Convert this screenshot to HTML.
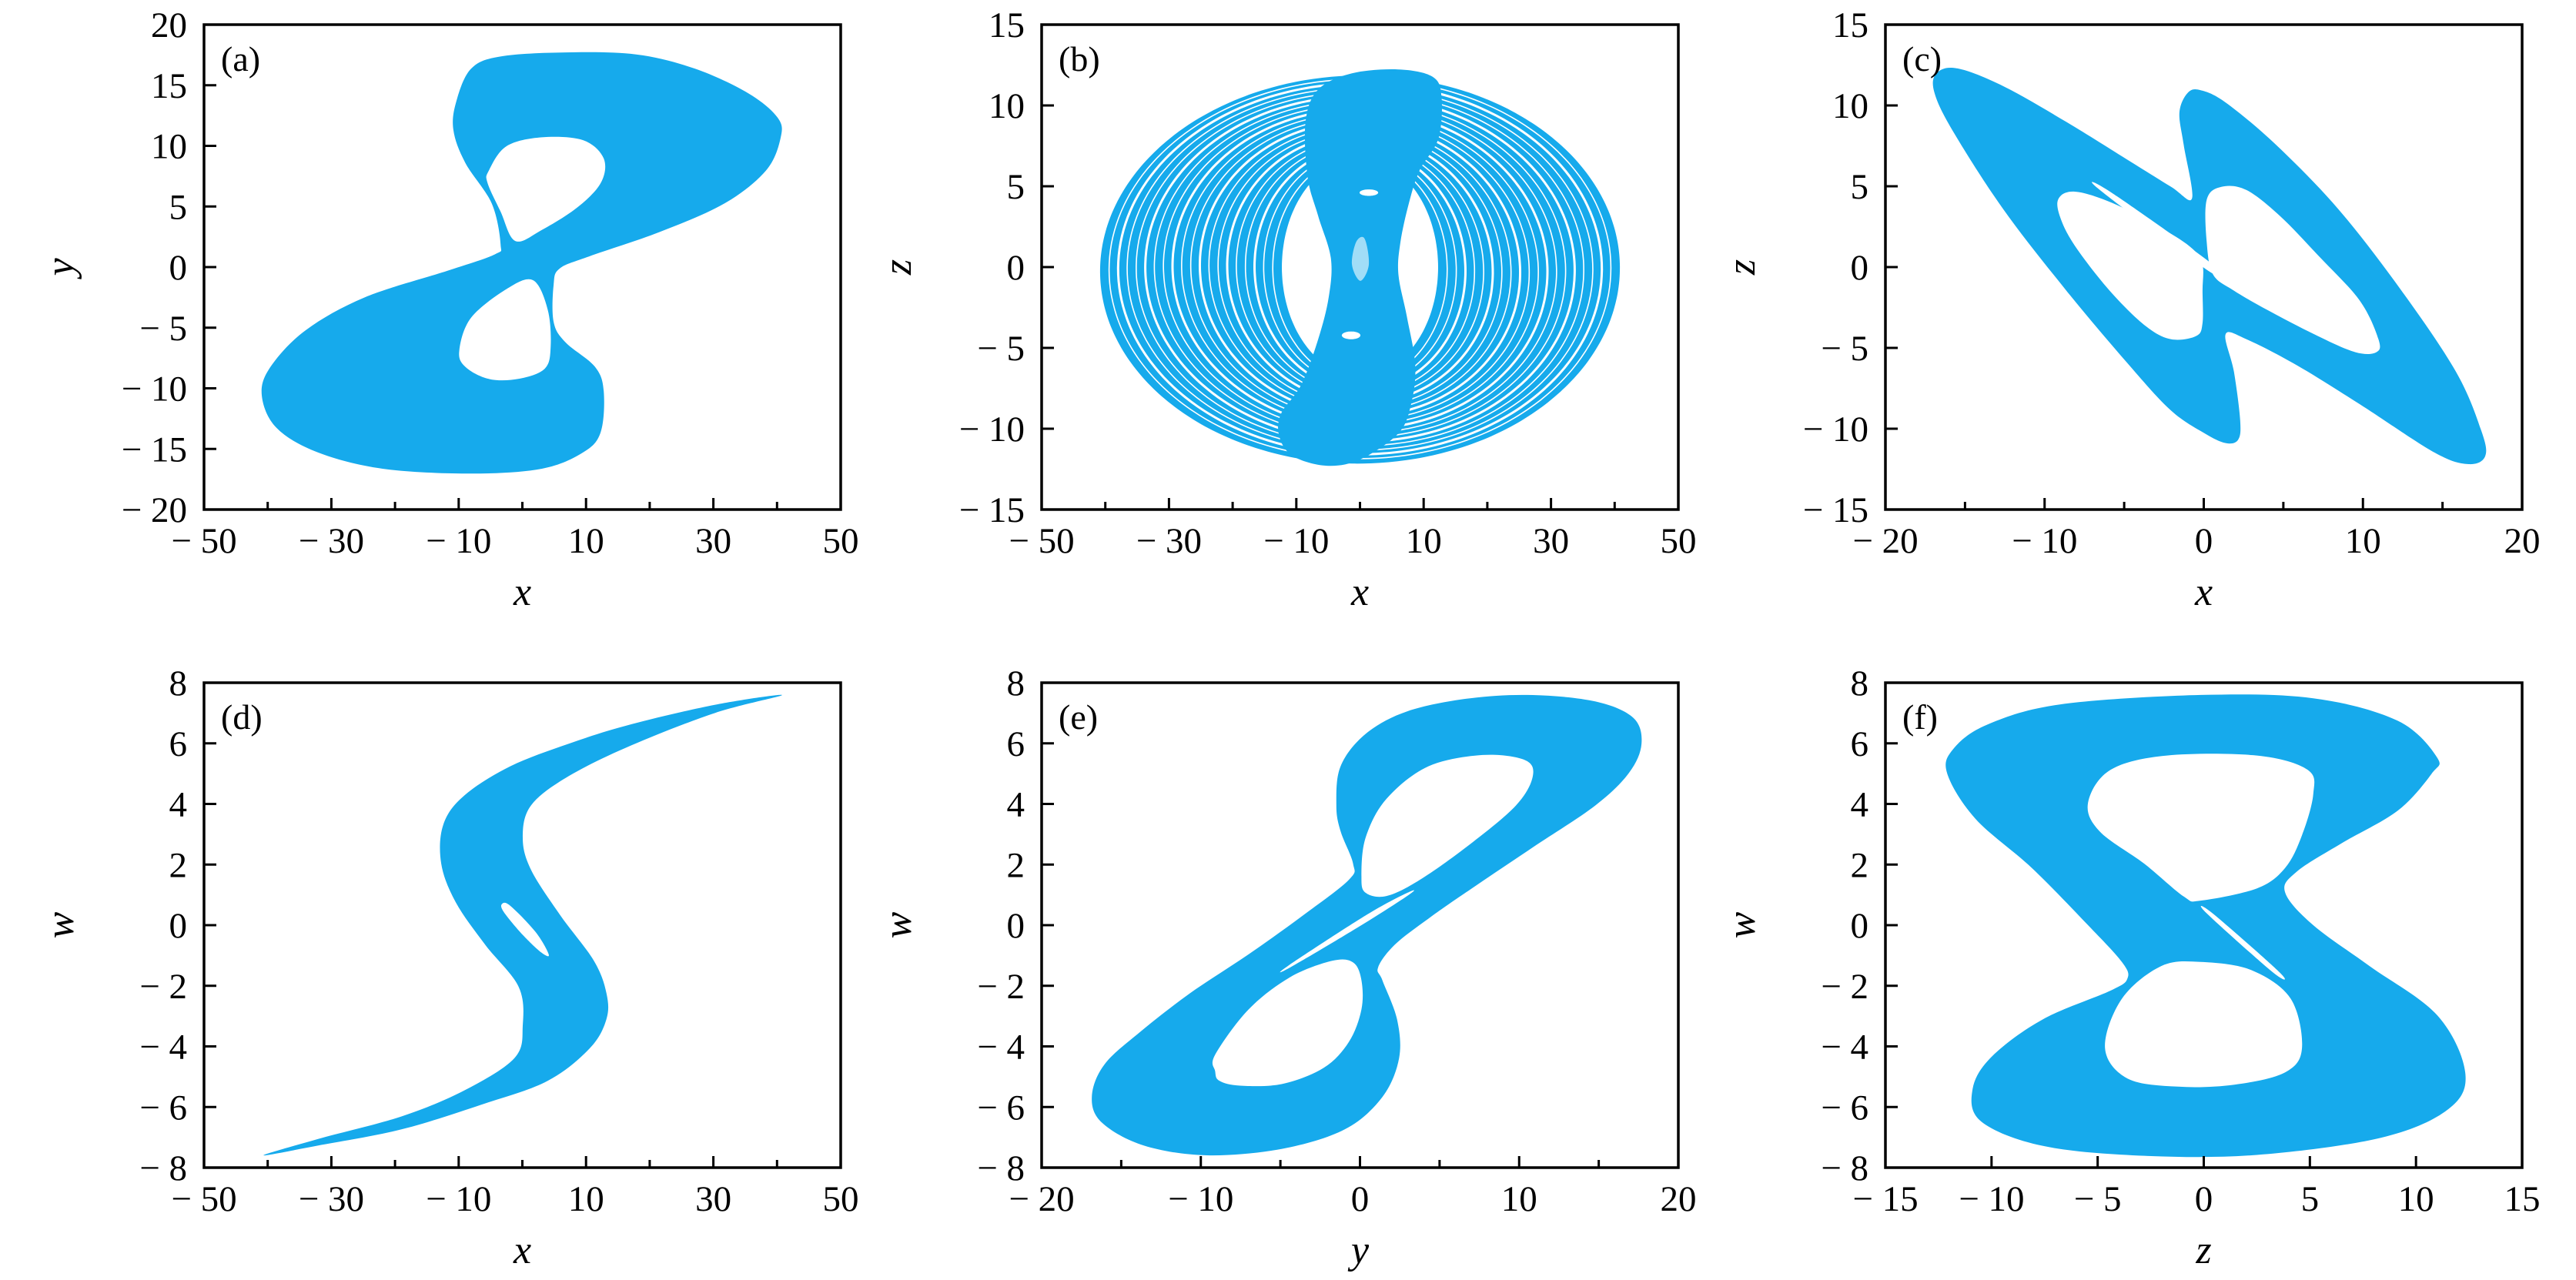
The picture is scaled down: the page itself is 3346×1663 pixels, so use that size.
<!DOCTYPE html>
<html><head><meta charset="utf-8">
<style>
html,body{margin:0;padding:0;background:#fff;}
svg{display:block;}
text{font-family:"Liberation Serif","DejaVu Serif",serif;fill:#000;}
</style></head>
<body>
<svg id="s" width="3346" height="1663" xmlns="http://www.w3.org/2000/svg"></svg>
<script>
const BLUE="#16aaec";
const W=827,H=630;
const cols=[265,1353,2449], rows=[32,887];
let out="";
function fmt(v){return v<0?"\u2212 "+(-v):""+v;}
function cr(P){const n=P.length;let d="M"+P[0][0].toFixed(1)+","+P[0][1].toFixed(1);
 for(let i=0;i<n;i++){const p0=P[(i-1+n)%n],p1=P[i],p2=P[(i+1)%n],p3=P[(i+2)%n];
  const c1=[p1[0]+(p2[0]-p0[0])/6,p1[1]+(p2[1]-p0[1])/6],c2=[p2[0]-(p3[0]-p1[0])/6,p2[1]-(p3[1]-p1[1])/6];
  d+="C"+c1[0].toFixed(1)+","+c1[1].toFixed(1)+" "+c2[0].toFixed(1)+","+c2[1].toFixed(1)+" "+p2[0].toFixed(1)+","+p2[1].toFixed(1);}
 return d+"Z";}
function mapper(x0,y0,L,R,T,B){return p=>[x0+(p[0]-L)/(R-L)*W,y0+(p[1]-T)/(B-T)*H];}
function shape(m,outer,holes){let d=cr(outer.map(m));(holes||[]).forEach(h=>d+=cr(h.map(m)));
 out+=`<path d="${d}" fill="${BLUE}" fill-rule="evenodd"/>`;}
function axes(x0,y0,xr,xl,xt,xmaj,yr,yl,yt,xt_title,yt_title,lab){
 const X=v=>x0+(v-xr[0])/(xr[1]-xr[0])*W, Y=v=>y0+(yr[1]-v)/(yr[1]-yr[0])*H;
 xt.forEach(v=>{const len=xmaj(v)?15:10;out+=`<line x1="${X(v)}" y1="${y0+H}" x2="${X(v)}" y2="${y0+H-len}" stroke="#000" stroke-width="3"/>`;});
 yt.forEach(v=>{out+=`<line x1="${x0}" y1="${Y(v)}" x2="${x0+16}" y2="${Y(v)}" stroke="#000" stroke-width="3"/>`;});
 out+=`<rect x="${x0}" y="${y0}" width="${W}" height="${H}" fill="none" stroke="#000" stroke-width="3.5"/>`;
 xl.forEach(v=>{out+=`<text x="${X(v)}" y="${y0+H+56}" font-size="47" text-anchor="middle">${fmt(v)}</text>`;});
 yl.forEach(v=>{out+=`<text x="${x0-22}" y="${Y(v)+16}" font-size="47" text-anchor="end">${fmt(v)}</text>`;});
 out+=`<text x="${x0+W/2}" y="${y0+H+124}" font-size="52" font-style="italic" text-anchor="middle">${xt_title}</text>`;
 out+=`<text transform="translate(${x0-170},${y0+H/2}) rotate(-90)" font-size="52" font-style="italic" text-anchor="middle">${yt_title}</text>`;
 out+=`<text x="${x0+22}" y="${y0+60}" font-size="46">(${lab})</text>`;}
function rng(a,b,s){const r=[];for(let v=a;v<=b+1e-9;v+=s)r.push(v);return r;}

// (a)
{const m=mapper(cols[0],rows[0],347,1427,62,1250);
shape(m,[[775,250],[800,170],[850,140],[960,130],[1080,135],[1180,170],[1270,230],[1320,290],[1325,340],[1300,420],[1230,500],[1120,570],[1000,630],[950,660],[940,700],[940,790],[960,840],[1010,900],[1025,960],[1020,1060],[990,1110],[920,1150],[800,1162],[650,1150],[540,1110],[470,1050],[445,970],[460,900],[520,810],[620,730],[760,665],[840,625],[850,600],[835,500],[790,400],[770,320]],
[[[830,420],[860,360],[920,338],[990,345],[1025,390],[1020,450],[980,510],[920,565],[875,592],[850,520],[828,450]],
 [[780,860],[800,780],[860,710],[905,688],[930,760],[935,850],[925,905],[880,930],[830,930],[790,900]]]);}
// (b)
{const m=mapper(cols[1],rows[0],25,1533,30,1525);
const ell=(cx,cy,rx,ry,rot)=>{const P=[];for(let i=0;i<90;i++){const t=i/90*2*Math.PI;const x=rx*Math.cos(t),y=ry*Math.sin(t);P.push([cx+x*Math.cos(rot)-y*Math.sin(rot),cy+x*Math.sin(rot)+y*Math.cos(rot)]);}return P;};
shape(m,ell(779,785,616,598,-0.15),[ell(779,778,185,335,0)]);
for(let k=1;k<20;k++){const f=k/20;const E=ell(779,783,185+f*(616-185),335+f*(598-335),-0.15*f);
 out+=`<path d="${cr(E.map(m))}" fill="none" stroke="#fff" stroke-width="${k%3==0?3:1.6}"/>`;}
shape(m,[[650,330],[680,230],[760,180],[870,168],[950,190],[972,250],[965,380],[920,480],[895,580],[875,700],[870,800],[890,930],[910,1080],[900,1200],[870,1290],[780,1370],[700,1390],[620,1360],[588,1300],[592,1230],[640,1140],[680,1000],[705,870],[710,750],[680,620],[655,500]]);
out+=`<path d="${cr(ell(800,548,22,10,0).map(m))}" fill="#fff"/><path d="${cr(ell(758,988,22,12,0).map(m))}" fill="#fff"/>`;
out+=`<path d="${cr([[770,700],[790,690],[800,770],[780,820],[760,770]].map(m))}" fill="#fff" opacity="0.6"/>`;}
// (c)
{const m=mapper(cols[2],rows[0],18,1538,30,1525);
shape(m,[[140,180],[190,165],[300,220],[450,330],[600,450],[700,530],[750,565],[730,400],[720,300],[740,240],[770,232],[830,270],[950,400],[1100,600],[1250,850],[1380,1100],[1440,1280],[1450,1360],[1410,1385],[1330,1350],[1150,1200],[1000,1080],[880,1000],[830,985],[850,1100],[865,1250],[860,1310],[830,1320],[780,1290],[700,1220],[600,1080],[450,850],[300,600],[180,360],[135,240]],
[[[430,570],[470,545],[560,580],[680,660],[750,720],[775,770],[775,850],[775,950],[760,990],[700,1000],[640,960],[560,860],[480,730],[440,640]],
 [[785,570],[820,530],[880,540],[960,620],[1050,740],[1150,880],[1195,1000],[1190,1040],[1140,1040],[1050,990],[930,910],[850,850],[800,800],[785,700]]]);
out+=`<path d="${cr([[530,540],[560,550],[800,770],[790,790]].map(m))}" fill="#fff"/>`;}
// (d)
{const m=mapper(cols[0],rows[1],28,1550,42,1538);
shape(m,[[170,1500],[300,1450],[500,1380],[650,1300],[770,1200],[790,1100],[780,980],[700,850],[630,720],[595,600],[600,480],[650,390],[760,300],[900,230],[1050,170],[1250,110],[1410,80],[1250,135],[1050,235],[900,330],[810,420],[790,520],[810,620],[880,760],[960,900],[990,1000],[990,1080],[950,1170],[850,1270],[700,1340],[500,1420],[300,1470]],
[[[740,725],[760,730],[820,810],[852,880],[835,875],[790,820],[745,750]]]);}
// (e)
{const m=mapper(cols[1],rows[1],25,1548,42,1538);
shape(m,[[730,420],[740,300],[800,200],[900,130],[1050,90],[1200,80],[1350,100],[1440,150],[1460,230],[1430,320],[1350,420],[1200,550],[1050,680],[950,770],[870,850],[830,920],[840,960],[875,1080],[880,1200],[840,1320],[750,1420],[600,1480],[420,1500],[270,1470],[170,1400],[145,1320],[175,1220],[260,1120],[380,1000],[520,880],[650,760],[760,650],[770,600],[740,500]],
[[[790,640],[800,520],[850,400],[950,300],[1080,265],[1180,280],[1200,330],[1160,420],[1050,540],[930,650],[850,700],[800,690]],
 [[440,1240],[440,1190],[520,1050],[620,950],[720,900],[770,905],[790,960],[790,1050],[760,1150],[700,1230],[600,1280],[500,1285],[450,1270]]]);
out+=`<path d="${cr([[800,760],[900,690],[905,695],[790,790],[620,920],[615,915]].map(m))}" fill="#fff"/>`;}
// (f)
{const m=mapper(cols[2],rows[1],340,1471,107,1293);
shape(m,[[450,330],[460,270],[520,210],[650,160],[900,137],[1100,145],[1250,200],[1320,290],[1310,330],[1250,420],[1150,500],[1070,570],[1050,620],[1100,700],[1200,800],[1320,920],[1370,1060],[1340,1150],[1220,1220],[1000,1262],[800,1264],[620,1240],[510,1180],[495,1100],[530,1020],[620,930],[740,860],[770,830],[760,790],[700,700],[600,560],[500,440]],
[[[700,400],[740,320],[840,285],[1000,285],[1090,320],[1100,380],[1080,480],[1050,560],[1000,610],[900,640],[870,630],[800,550],[720,470]],
 [[730,1000],[760,880],[830,800],[900,790],[990,810],[1060,880],[1080,1000],[1050,1060],[960,1090],[860,1095],[770,1075]]]);
out+=`<path d="${cr([[910,670],[922,672],[1040,815],[1028,815]].map(m))}" fill="#fff"/>`;}

const y20=rng(-20,20,5),y15=rng(-15,15,5),y8=rng(-8,8,2);
const x50l=[-50,-30,-10,10,30,50],x50t=rng(-40,40,10),m50=v=>[-30,-10,10,30].includes(v);
const x20l=rng(-20,20,10),x20t=rng(-15,15,5),m20=v=>v%10==0;
axes(cols[0],rows[0],[-50,50],x50l,x50t,m50,[-20,20],y20,rng(-15,15,5),"x","y","a");
axes(cols[1],rows[0],[-50,50],x50l,x50t,m50,[-15,15],y15,rng(-10,10,5),"x","z","b");
axes(cols[2],rows[0],[-20,20],x20l,x20t,m20,[-15,15],y15,rng(-10,10,5),"x","z","c");
axes(cols[0],rows[1],[-50,50],x50l,x50t,m50,[-8,8],y8,rng(-6,6,2),"x","w","d");
axes(cols[1],rows[1],[-20,20],x20l,x20t,m20,[-8,8],y8,rng(-6,6,2),"y","w","e");
axes(cols[2],rows[1],[-15,15],rng(-15,15,5),rng(-10,10,5),v=>true,[-8,8],y8,rng(-6,6,2),"z","w","f");
document.getElementById("s").innerHTML=out;
</script>
</body></html>
